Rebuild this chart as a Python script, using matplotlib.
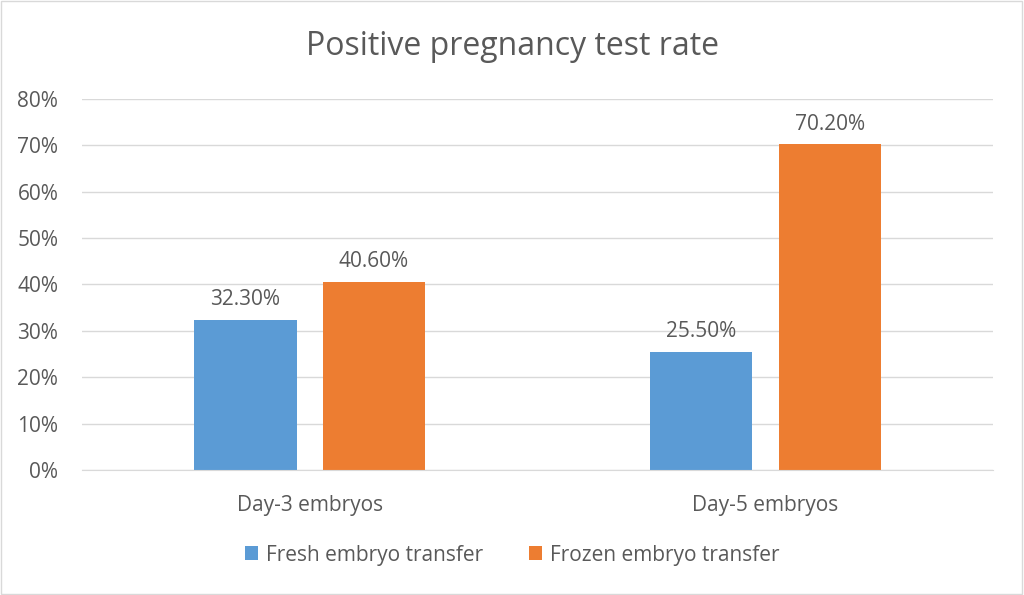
import matplotlib.pyplot as plt
import numpy as np
from matplotlib.patches import Rectangle

plt.rcParams['font.family'] = ['Open Sans', 'DejaVu Sans']

# data
categories = ['Day-3 embryos', 'Day-5 embryos']
series_names = ['Fresh embryo transfer', 'Frozen embryo transfer']
fresh = [0.323, 0.255]
frozen = [0.406, 0.702]
colors = ['#5B9BD5', '#ED7D31']
text_color = '#595959'

fig = plt.figure(figsize=(10.24, 5.95), dpi=100)
ax = fig.add_axes([0.080, 0.210, 0.890, 0.624])

x = np.arange(len(categories))
width = 0.224
offset = 0.141
b1 = ax.bar(x - offset, fresh, width, color=colors[0], label=series_names[0])
b2 = ax.bar(x + offset, frozen, width, color=colors[1], label=series_names[1])

for bars in (b1, b2):
    for rect in bars:
        h = rect.get_height()
        ax.annotate(f'{h * 100:.2f}%', (rect.get_x() + rect.get_width() / 2, h),
                    xytext=(0, 7), textcoords='offset points', ha='center', va='bottom',
                    fontsize=15, color=text_color)

ax.set_xlim(-0.5, 1.5)
ax.set_ylim(0, 0.8)
ax.set_yticks(np.arange(0, 0.81, 0.1))
ax.set_yticklabels([f'{int(round(v * 100))}%' for v in np.arange(0, 0.81, 0.1)])
ax.set_xticks(x)
ax.set_xticklabels(categories)
ax.tick_params(axis='both', length=0, labelsize=15, colors=text_color)
ax.tick_params(axis='x', pad=18)
ax.tick_params(axis='y', pad=17)
ax.grid(axis='y', color='#D9D9D9', linewidth=1)
ax.set_axisbelow(True)
for s in ['top', 'right', 'left']:
    ax.spines[s].set_visible(False)
ax.spines['bottom'].set_color('#D9D9D9')

fig.text(0.5, 0.922, 'Positive pregnancy test rate', ha='center', va='center',
         fontsize=23, color=text_color)

fig.legend(loc='center', bbox_to_anchor=(0.5, 0.067), ncol=2, frameon=False,
           fontsize=15, handlelength=0.65, handleheight=0.65, handletextpad=0.35,
           columnspacing=2.2, labelcolor=text_color)

fig.patches.append(Rectangle((0.001, 0.002), 0.997, 0.996, transform=fig.transFigure,
                             fill=False, edgecolor='#D9D9D9', linewidth=1))

fig.savefig('out.png', dpi=100)
